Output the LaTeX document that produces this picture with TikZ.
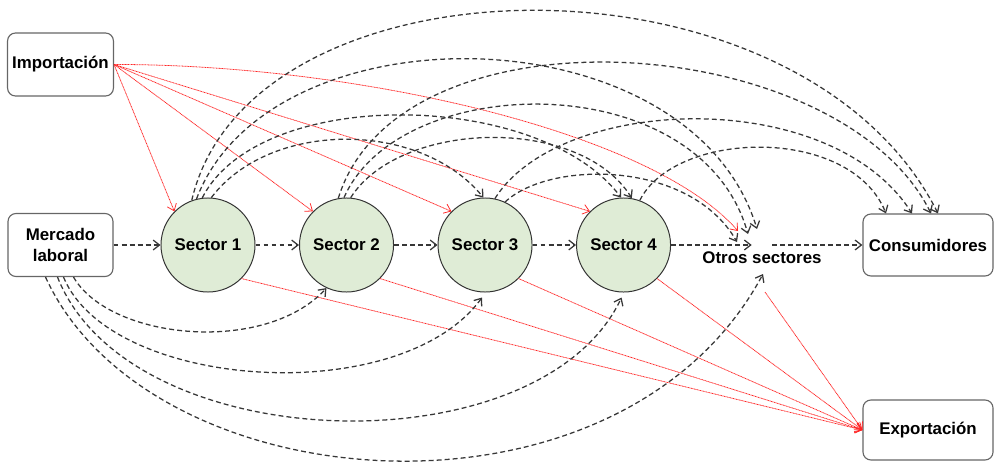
\documentclass[tikz,border=0pt]{standalone}
\usepackage{fontspec}
\setmainfont{Liberation Sans}
\usetikzlibrary{arrows.meta,calc,chains,positioning}
\definecolor{sectorgreen}{RGB}{223,236,214}
\definecolor{flowgray}{RGB}{55,55,55}

\begin{document}
\begin{tikzpicture}[x=0.025cm,y=-0.025cm,
  font=\bfseries\fontsize{12}{15}\selectfont,
  box/.style={draw=black!60,line width=0.8pt,rounded corners=0.2cm,minimum width=2.625cm,minimum height=1.575cm,align=center},
  endbox/.style={box,minimum width=3.25cm,minimum height=1.55cm},
  sector/.style={circle,draw=black!80,line width=0.7pt,fill=sectorgreen,minimum size=2.35cm,inner sep=0pt},
  hub/.style={inner sep=0pt,minimum width=0.5cm,minimum height=0.3cm},
  flow/.style={draw=flowgray,line width=0.9pt,dash pattern=on 3.5pt off 2.2pt,-{Straight Barb[length=4.5pt,width=7pt]}},
  supply/.style={draw=red!85,line width=0.55pt,dash pattern=on 0.7pt off 0.4pt,-{Straight Barb[length=4.5pt,width=7pt]}}]

\useasboundingbox (0,0) rectangle (994,461);

\node[box] (imp) at (60.5,64.5) {Importación};
\node[box] (mer) at (60.5,245) {Mercado\\laboral};

\begin{scope}[shift={(208,245)},start chain=going right,node distance=1.0875cm]
\foreach \i in {1,...,4}
  \node[on chain,sector] (s\i) {Sector \i};
\end{scope}

\node[hub,label={[inner sep=0pt]below:Otros sectores}] (ot) at (762,245) {};
\node[endbox] (cons) at (928,245) {Consumidores};
\node[endbox,minimum height=1.5cm] (exp) at (928,430) {Exportación};

\foreach \a/\b in {mer/s1,s1/s2,s2/s3,s3/s4,s4/ot,ot/cons}
  \draw[flow] (\a) -- (\b);

\foreach \i in {1,...,4}
  \draw[supply] (imp.east) -- (s\i.135);
\draw[supply] (imp.east) .. controls (350,64) and (650,130) .. ($(ot)+(-24,-14)$);

\foreach \i in {1,...,4}
  \draw[supply] (s\i.-45) -- (exp.west);
\draw[supply] ($(ot)+(3,47)$) -- (exp.west);

\draw[flow] ($(mer.south)+(13,0)$) .. controls (110,340) and (265,355) .. (s2.245);
\draw[flow] ($(mer.south)+(3,0)$) .. controls (110,390) and (400,410) .. ($(s3.south)+(-3,5)$);
\draw[flow] ($(mer.south)+(-3,0)$) .. controls (130,460) and (540,470) .. ($(s4.south)+(-2,5)$);
\draw[flow] ($(mer.south)+(-15,0)$) .. controls (150,505) and (620,540) .. ($(ot)+(1,29)$);

\draw[flow] (s1.110) .. controls (250,-50) and (800,-60) .. ($(cons.north)+(10,0)$);
\draw[flow] (s1.104) .. controls (270,5) and (690,10) .. ($(ot)+(-5,-16)$);
\draw[flow] (s1.97) .. controls (260,85) and (540,90) .. (s4.93);
\draw[flow] (s1.86) .. controls (270,120) and (420,120) .. (s3.92);

\draw[flow] (s2.100) .. controls (400,0) and (840,30) .. ($(cons.north)+(3,0)$);
\draw[flow] (s2.93) .. controls (400,70) and (700,65) .. ($(ot)+(-14,-11)$);
\draw[flow] (s2.85) .. controls (400,120) and (580,115) .. (s4.80);

\draw[flow] (s3.78) .. controls (560,95) and (830,85) .. ($(cons.north)+(-16,0)$);
\draw[flow] (s3.65) .. controls (550,160) and (690,160) .. ($(ot)+(-25,-3)$);

\draw[flow] (s4.70) .. controls (675,130) and (850,125) .. ($(cons.north)+(-42,0)$);

\end{tikzpicture}
\end{document}
